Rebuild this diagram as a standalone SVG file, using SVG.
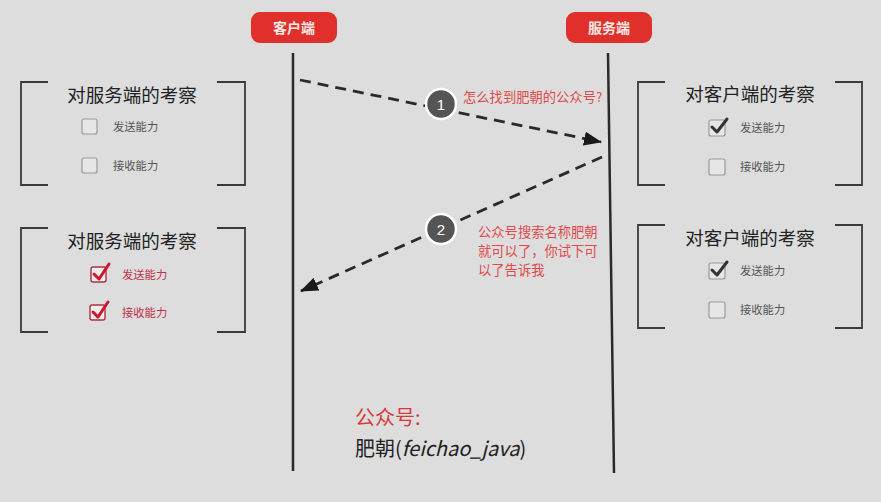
<svg xmlns="http://www.w3.org/2000/svg" width="881" height="502" viewBox="0 0 881 502">
<defs>
<style>
.hdr{fill:#e0302b}
.hdrt{font-family:"Noto Sans CJK SC","Liberation Sans",sans-serif;font-size:14px;font-weight:bold;fill:#fbe9e6;text-anchor:middle}
.life{stroke:#2a2a2a;stroke-width:2.5;fill:none}
.br{stroke:#3a3a3a;stroke-width:1.8;fill:none}
.title{font-family:"Noto Sans CJK SC",sans-serif;font-size:18.5px;fill:#222;text-anchor:middle}
.lab{font-family:"Noto Sans CJK SC",sans-serif;font-size:11.3px;fill:#555}
.labr{font-family:"Noto Sans CJK SC",sans-serif;font-size:11.3px;fill:#c0304a}
.cb{fill:#e6e6e6;stroke:#9a9a9a;stroke-width:1.2}
.cbr{fill:#eeeeee;stroke:#b03040;stroke-width:1.4}
.chk{fill:none;stroke:#333;stroke-width:3;stroke-linecap:round;stroke-linejoin:round}
.chkr{fill:none;stroke:#d01530;stroke-width:3;stroke-linecap:round;stroke-linejoin:round}
.dash{stroke:#2a2a2a;stroke-width:2.8;stroke-dasharray:11 7;fill:none}
.num{fill:#555;stroke:#fff;stroke-width:2.5}
.numt{font-family:"Liberation Sans",sans-serif;font-size:15px;fill:#fff;text-anchor:middle}
.msg{font-family:"Noto Sans CJK SC",sans-serif;font-size:13.3px;fill:#e04a4a}
</style>
<marker id="ah" markerWidth="18" markerHeight="14" refX="17" refY="7" orient="auto" markerUnits="userSpaceOnUse" viewBox="0 0 18 14">
<path d="M0,0 L18,7 L0,14 z" fill="#1a1a1a"/>
</marker>
</defs>
<rect width="881" height="502" fill="#dddddd"/>

<g id="client-header">
<rect class="hdr" x="251" y="12" width="86" height="31" rx="9"/>
<text class="hdrt" x="294" y="33">客户端</text>
</g>
<g id="server-header">
<rect class="hdr" x="566" y="12" width="86" height="31" rx="9"/>
<text class="hdrt" x="609" y="33">服务端</text>
</g>

<g id="lifelines">
<line class="life" x1="293" y1="53" x2="293" y2="471"/>
<line class="life" x1="608" y1="53" x2="614" y2="473"/>
</g>

<g id="box-left-1">
<path class="br" d="M48,82 H21 V185 H48"/>
<path class="br" d="M217,82 H245 V185 H217"/>
<text class="title" x="132" y="102">对服务端的考察</text>
<rect class="cb" x="82" y="119" width="15" height="15" rx="2"/>
<text class="lab" x="113" y="131">发送能力</text>
<rect class="cb" x="82" y="158" width="15" height="15" rx="2"/>
<text class="lab" x="113" y="170">接收能力</text>
</g>

<g id="box-left-2">
<path class="br" d="M48,228 H21 V332 H48"/>
<path class="br" d="M217,228 H245 V332 H217"/>
<text class="title" x="132" y="248">对服务端的考察</text>
<rect class="cbr" x="91" y="267" width="15" height="15" rx="2"/>
<path class="chkr" d="M94,274 L99,279 L109,264"/>
<text class="labr" x="122" y="279">发送能力</text>
<rect class="cbr" x="90" y="305" width="15" height="15" rx="2"/>
<path class="chkr" d="M93,312 L98,317 L108,302"/>
<text class="labr" x="122" y="317">接收能力</text>
</g>

<g id="box-right-1">
<path class="br" d="M665,82 H638 V185 H665"/>
<path class="br" d="M835,82 H862 V185 H835"/>
<text class="title" x="750" y="101">对客户端的考察</text>
<rect class="cb" x="709" y="120" width="16" height="16" rx="2"/>
<path class="chk" d="M712,127 L717,132 L727,119"/>
<text class="lab" x="740" y="132">发送能力</text>
<rect class="cb" x="709" y="159" width="16" height="16" rx="2"/>
<text class="lab" x="740" y="171">接收能力</text>
</g>

<g id="box-right-2">
<path class="br" d="M665,225 H638 V328 H665"/>
<path class="br" d="M835,225 H862 V328 H835"/>
<text class="title" x="750" y="245">对客户端的考察</text>
<rect class="cb" x="709" y="263" width="16" height="16" rx="2"/>
<path class="chk" d="M712,270 L717,275 L727,262"/>
<text class="lab" x="740" y="275">发送能力</text>
<rect class="cb" x="709" y="302" width="16" height="16" rx="2"/>
<text class="lab" x="740" y="314">接收能力</text>
</g>

<g id="connectors">
<line class="dash" x1="300" y1="80" x2="601" y2="142" marker-end="url(#ah)"/>
<line class="dash" x1="602" y1="157" x2="301" y2="291" marker-end="url(#ah)"/>
</g>

<g id="step-1">
<circle class="num" cx="441" cy="104" r="15"/>
<text class="numt" x="441" y="110">1</text>
<text class="msg" x="463" y="102">怎么找到肥朝的公众号?</text>
</g>
<g id="step-2">
<circle class="num" cx="441" cy="229" r="15"/>
<text class="numt" x="441" y="235">2</text>
<text class="msg" x="478" y="237">公众号搜索名称肥朝</text>
<text class="msg" x="478" y="256">就可以了，你试下可</text>
<text class="msg" x="478" y="275">以了告诉我</text>
</g>

<g id="footer">
<text x="355" y="425" font-family="Noto Sans CJK SC,sans-serif" font-size="20" fill="#d83a3a">公众号:</text>
<text x="355" y="456" font-family="Noto Sans CJK SC,sans-serif" font-size="20" fill="#222">肥朝(<tspan font-style="italic">feichao_java</tspan>)</text>
</g>
</svg>
